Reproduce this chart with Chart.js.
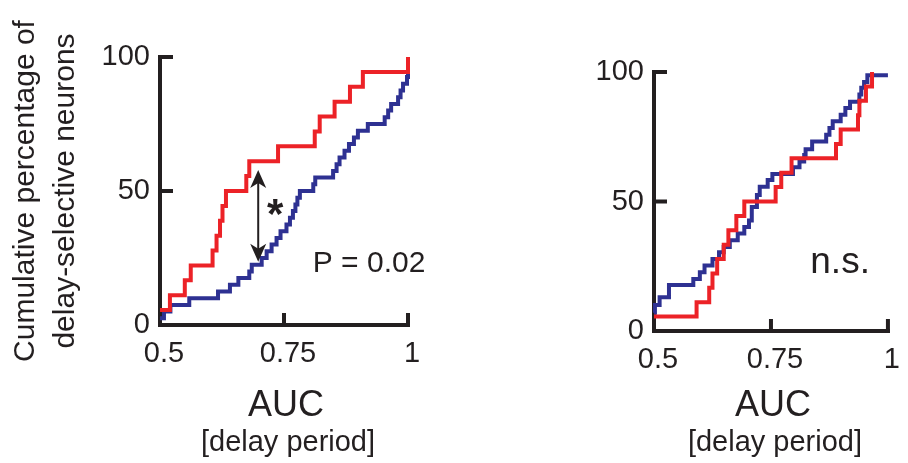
<!DOCTYPE html>
<html>
<head>
<meta charset="utf-8">
<script src="https://cdn.jsdelivr.net/npm/chart.js@4.4.1/dist/chart.umd.min.js"></script>
<style>
  html, body { margin: 0; padding: 0; background: #fff; }
  #wrap { position: relative; width: 908px; height: 463px; overflow: hidden; }
  #wrap canvas { position: absolute; top: 0; }
</style>
</head>
<body>
<div id="wrap">
  <canvas id="chartLeft" width="450" height="463" style="left:0"></canvas>
  <canvas id="chartRight" width="454" height="463" style="left:454px"></canvas>
</div>
<script>
const aucTicks = [0.5, 0.75, 1];
const pctTicks = [0, 50, 100];

// left panel (P = 0.02)
const leftRedAuc = [0.5, 0.52, 0.55, 0.562, 0.606, 0.614, 0.621, 0.626, 0.633, 0.674, 0.68, 0.738, 0.812, 0.822, 0.852, 0.883, 0.909, 1.0];
const leftRedPct = [5.6, 11.1, 16.7, 22.2, 27.8, 33.3, 38.9, 44.4, 50, 55.6, 61.1, 66.7, 72.2, 77.8, 83.3, 88.9, 94.4, 100];
const leftBlueAuc = [0.5, 0.508, 0.521, 0.559, 0.617, 0.641, 0.658, 0.680, 0.685, 0.705, 0.715, 0.725, 0.735, 0.743, 0.755, 0.762, 0.768, 0.773, 0.777, 0.782,
  0.809, 0.813, 0.849, 0.856, 0.862, 0.872, 0.881, 0.891, 0.899, 0.919, 0.953, 0.960, 0.966, 0.980, 0.985, 0.990, 0.998, 1.0];
const leftBluePct = [2.5, 5, 7.5, 10, 12.5, 15, 17.5, 20, 22.5, 25, 27.5, 30, 32.5, 35, 37.5, 40, 42.5, 45, 47.5, 50,
  52.5, 55, 57.5, 60, 62.5, 65, 67.5, 70, 72.5, 75, 77.5, 80, 82.5, 85, 87.5, 90, 92.5, 100];

// right panel (n.s.)
const rightRedAuc = [0.5, 0.591, 0.618, 0.625, 0.635, 0.649, 0.659, 0.676, 0.693, 0.760, 0.772, 0.794, 0.889, 0.899, 0.936, 0.939, 0.953, 0.966];
const rightRedPct = [5.6, 11.1, 16.7, 22.2, 27.8, 33.3, 38.9, 44.4, 50, 55.6, 61.1, 66.7, 72.2, 77.8, 83.3, 88.9, 94.4, 100];
const rightBlueAuc = [0.5, 0.502, 0.512, 0.532, 0.584, 0.598, 0.608, 0.625, 0.639, 0.649, 0.662, 0.679, 0.693, 0.703, 0.709, 0.720, 0.726, 0.743,
  0.753, 0.797, 0.811, 0.821, 0.824, 0.838, 0.868, 0.875, 0.882, 0.899, 0.909, 0.919, 0.939, 0.943, 0.949, 0.956, 1.0];
const rightBluePct = [7, 10, 13, 17.8, 20.1, 22.7, 25.3, 27.8, 30.4, 32.4, 35, 37.6, 40.2, 42.7, 47.9, 52.5, 55.7, 58.3,
  60.6, 63.2, 65.4, 68, 70.2, 73.2, 75.8, 78.4, 81, 83.5, 86.1, 88.5, 91.3, 93.9, 96.1, 98.7, 98.7];

const ink = '#231f20';
const red = '#ec2227';
const blue = '#2e3192';
const fontFamily = '"Liberation Sans", Arial, sans-serif';

Chart.defaults.font.family = fontFamily;
Chart.defaults.color = ink;

function toPoints(xs, ys) {
  return xs.map((v, i) => ({ x: v, y: ys[i] }));
}

function curve(xs, ys, color) {
  return {
    data: toPoints(xs, ys),
    borderColor: color,
    borderWidth: 4,
    stepped: 'before',
    pointRadius: 0,
    fill: false,
    clip: false,
    borderJoinStyle: 'miter'
  };
}

// axes with inward ticks, x titles, text notes and the arrow
function makeDecor(cfg) {
  return {
    id: 'decor',
    beforeDatasetsDraw(chart) {
      const { ctx, chartArea: a, scales: { x, y } } = chart;
      ctx.save();
      ctx.strokeStyle = ink;
      ctx.lineWidth = 4;
      ctx.lineCap = 'square';
      ctx.lineJoin = 'miter';
      ctx.beginPath();
      ctx.moveTo(a.left, y.getPixelForValue(100));
      ctx.lineTo(a.left, a.bottom);
      ctx.lineTo(x.getPixelForValue(1), a.bottom);
      ctx.stroke();
      ctx.lineCap = 'butt';
      ctx.beginPath();
      pctTicks.slice(1).forEach(v => {
        const py = y.getPixelForValue(v);
        ctx.moveTo(a.left - 2, py);
        ctx.lineTo(a.left + 13, py);
      });
      aucTicks.slice(1).forEach(v => {
        const px = x.getPixelForValue(v);
        ctx.moveTo(px, a.bottom + 2);
        ctx.lineTo(px, a.bottom - 12);
      });
      ctx.stroke();
      ctx.restore();
    },
    afterDraw(chart) {
      const { ctx, chartArea: a, scales: { x, y } } = chart;
      ctx.save();
      ctx.fillStyle = ink;
      const cx = (a.left + a.right) / 2 + 2;
      ctx.textAlign = 'center';
      ctx.textBaseline = 'alphabetic';
      ctx.font = '36px ' + fontFamily;
      ctx.fillText('AUC', cx, cfg.aucBase);
      ctx.font = '29px ' + fontFamily;
      ctx.fillText('[delay period]', cx + 2, cfg.aucBase + 35);

      ctx.textAlign = 'left';
      ctx.font = cfg.note.size + 'px ' + fontFamily;
      ctx.fillText(cfg.note.text, x.getPixelForValue(cfg.note.x), y.getPixelForValue(cfg.note.y));

      if (cfg.arrow) {
        const px = x.getPixelForValue(cfg.arrow.x);
        const top = y.getPixelForValue(cfg.arrow.top);
        const bot = y.getPixelForValue(cfg.arrow.bottom);
        ctx.strokeStyle = ink;
        ctx.lineWidth = 2;
        ctx.beginPath();
        ctx.moveTo(px, top + 10);
        ctx.lineTo(px, bot - 10);
        ctx.stroke();
        const head = (tipY, dir) => {
          ctx.beginPath();
          ctx.moveTo(px, tipY);
          ctx.lineTo(px + 8, tipY + dir * 18);
          ctx.lineTo(px, tipY + dir * 13);
          ctx.lineTo(px - 8, tipY + dir * 18);
          ctx.closePath();
          ctx.fill();
        };
        head(top, 1);
        head(bot, -1);
        ctx.font = 'bold 42px ' + fontFamily;
        ctx.textAlign = 'center';
        ctx.fillText('*', x.getPixelForValue(cfg.arrow.starX), y.getPixelForValue(cfg.arrow.starY) + 22);
      }
      ctx.restore();
    }
  };
}

function makeChart(id, sets, cfg) {
  return new Chart(document.getElementById(id), {
    type: 'line',
    data: { datasets: sets },
    options: {
      responsive: false,
      animation: false,
      devicePixelRatio: 1,
      layout: { autoPadding: false, padding: cfg.padding },
      plugins: { legend: { display: false }, tooltip: { enabled: false } },
      scales: {
        x: {
          type: 'linear',
          min: 0.5,
          max: 1,
          afterBuildTicks: s => { s.ticks = aucTicks.map(v => ({ value: v })); },
          afterFit: s => { s.height = cfg.xHeight; },
          grid: { display: false, drawTicks: false },
          border: { display: false },
          ticks: { font: { size: 29 }, padding: 12, labelOffset: 4, maxRotation: 0, callback: v => String(v) }
        },
        y: {
          min: 0,
          max: 100,
          afterBuildTicks: s => { s.ticks = pctTicks.map(v => ({ value: v })); },
          afterFit: s => { s.width = cfg.yWidth; },
          grid: { display: false, drawTicks: false },
          border: { display: false },
          ticks: { font: { size: 29 }, padding: 10, callback: v => String(v) },
          title: {
            display: cfg.yTitle,
            text: ['Cumulative percentage of', 'delay-selective neurons'],
            font: { size: 30, lineHeight: 1.32 },
            padding: { top: 6, bottom: 0 }
          }
        }
      }
    },
    plugins: [makeDecor(cfg)]
  });
}

makeChart('chartLeft',
  [curve(leftRedAuc, leftRedPct, red), curve(leftBlueAuc, leftBluePct, blue)],
  {
    padding: { left: 0, top: 57, right: 42, bottom: 0 },
    yWidth: 160, xHeight: 138, yTitle: true, aucBase: 416,
    note: { text: 'P = 0.02', x: 0.808, y: 19.8, size: 30 },
    arrow: { x: 0.698, top: 57.8, bottom: 23.6, starX: 0.732, starY: 44.5 }
  });

makeChart('chartRight',
  [curve(rightRedAuc, rightRedPct, red), curve(rightBlueAuc, rightBluePct, blue)],
  {
    padding: { left: 0, top: 72, right: 6, bottom: 0 },
    yWidth: 200, xHeight: 132, yTitle: false, aucBase: 416,
    note: { text: 'n.s.', x: 0.834, y: 22.5, size: 37 }
  });
</script>
</body>
</html>
